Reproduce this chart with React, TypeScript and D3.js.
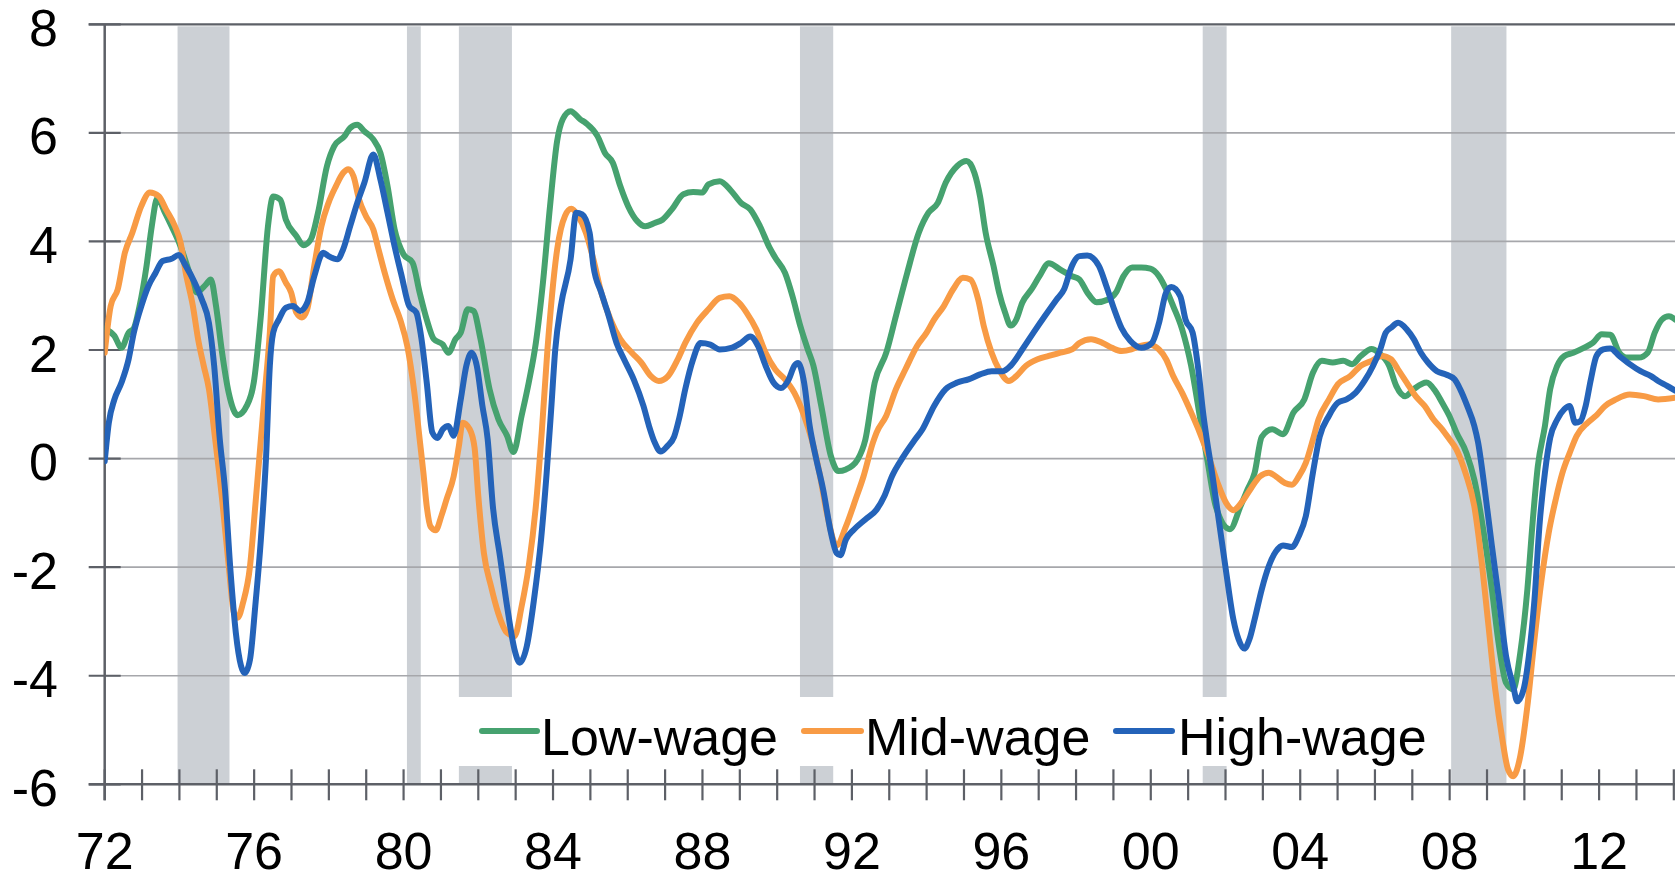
import React from 'react';
import * as d3 from 'd3';

// chart data (year, % change)
const yTicks = [8, 6, 4, 2, 0, -2, -4, -6];
const labelYears = [1972, 1976, 1980, 1984, 1988, 1992, 1996, 2000, 2004, 2008, 2012];
const yearLabels = ['72', '76', '80', '84', '88', '92', '96', '00', '04', '08', '12'];
const recessions: [number, number][] = [
  [1973.95, 1975.34], [1980.09, 1980.46], [1981.48, 1982.9],
  [1990.61, 1991.5], [2001.39, 2002.03], [2008.04, 2009.52],
];
const seriesNames = ['Low-wage', 'Mid-wage', 'High-wage'];
const seriesColors = ['#46a26f', '#f89b45', '#2463b9'];

const lowWage: [number, number][] = [
  [1972.0, 2.4], [1972.26, 2.26], [1972.45, 2.04], [1972.64, 2.32], [1972.78, 2.4], [1972.93, 2.8],
  [1973.12, 3.55], [1973.26, 4.28], [1973.41, 4.8], [1973.6, 4.55], [1973.79, 4.28], [1974.03, 3.91],
  [1974.27, 3.42], [1974.46, 3.06], [1974.7, 3.2], [1974.84, 3.3], [1974.98, 2.81], [1975.13, 2.01],
  [1975.32, 1.21], [1975.56, 0.8], [1975.8, 0.97], [1975.99, 1.4], [1976.18, 2.63], [1976.37, 4.28],
  [1976.51, 4.83], [1976.7, 4.77], [1976.85, 4.4], [1977.13, 4.1], [1977.32, 3.93], [1977.52, 4.04],
  [1977.71, 4.53], [1977.95, 5.39], [1978.14, 5.75], [1978.42, 5.94], [1978.57, 6.09], [1978.76, 6.15],
  [1978.95, 6.03], [1979.19, 5.88], [1979.38, 5.63], [1979.57, 5.02], [1979.76, 4.22], [1980.0, 3.76],
  [1980.24, 3.61], [1980.43, 3.06], [1980.62, 2.56], [1980.81, 2.2], [1981.05, 2.1], [1981.2, 1.95],
  [1981.39, 2.2], [1981.53, 2.32], [1981.72, 2.75], [1981.87, 2.72], [1982.06, 2.2], [1982.3, 1.28],
  [1982.54, 0.72], [1982.77, 0.42], [1982.94, 0.12], [1983.16, 0.79], [1983.35, 1.4], [1983.54, 2.13],
  [1983.73, 3.24], [1983.92, 4.65], [1984.11, 5.85], [1984.26, 6.25], [1984.47, 6.4], [1984.73, 6.25],
  [1984.88, 6.18], [1985.19, 5.94], [1985.39, 5.63], [1985.6, 5.45], [1985.8, 5.02], [1986.01, 4.65],
  [1986.26, 4.37], [1986.47, 4.28], [1986.72, 4.34], [1986.93, 4.4], [1987.18, 4.59], [1987.49, 4.87],
  [1987.75, 4.91], [1988.0, 4.9], [1988.16, 5.05], [1988.46, 5.11], [1988.77, 4.93], [1989.03, 4.71],
  [1989.28, 4.59], [1989.54, 4.28], [1989.8, 3.88], [1989.95, 3.7], [1990.21, 3.42], [1990.41, 2.99],
  [1990.62, 2.44], [1990.82, 2.01], [1990.97, 1.71], [1991.18, 0.97], [1991.44, 0.04], [1991.64, -0.23],
  [1991.84, -0.2], [1992.15, -0.02], [1992.36, 0.35], [1992.61, 1.4], [1992.92, 1.95], [1993.18, 2.63],
  [1993.48, 3.42], [1993.79, 4.16], [1994.05, 4.53], [1994.3, 4.71], [1994.51, 5.08], [1994.82, 5.39],
  [1995.07, 5.48], [1995.28, 5.26], [1995.43, 4.83], [1995.58, 4.16], [1995.79, 3.55], [1995.94, 3.06],
  [1996.1, 2.69], [1996.25, 2.45], [1996.4, 2.56], [1996.56, 2.87], [1996.81, 3.12], [1997.02, 3.36],
  [1997.27, 3.6], [1997.58, 3.48], [1997.89, 3.36], [1998.09, 3.3], [1998.3, 3.06], [1998.55, 2.88],
  [1998.86, 2.93], [1999.07, 3.06], [1999.27, 3.36], [1999.5, 3.52], [1999.75, 3.52], [1999.99, 3.5],
  [2000.22, 3.36], [2000.41, 3.12], [2000.6, 2.81], [2000.84, 2.38], [2001.08, 1.71], [2001.31, 0.79],
  [2001.52, -0.05], [2001.74, -0.88], [2002.12, -1.3], [2002.4, -0.88], [2002.59, -0.57], [2002.78, -0.26],
  [2002.97, 0.4], [2003.25, 0.54], [2003.54, 0.45], [2003.82, 0.85], [2004.11, 1.09], [2004.34, 1.58],
  [2004.58, 1.8], [2004.87, 1.77], [2005.15, 1.8], [2005.39, 1.74], [2005.62, 1.89], [2005.91, 2.02],
  [2006.1, 1.95], [2006.38, 1.71], [2006.57, 1.34], [2006.81, 1.15], [2007.04, 1.28], [2007.38, 1.4],
  [2007.61, 1.25], [2007.8, 1.03], [2007.99, 0.79], [2008.18, 0.48], [2008.45, 0.1], [2008.66, -0.39],
  [2008.94, -1.49], [2009.13, -2.41], [2009.32, -3.45], [2009.51, -4.13], [2009.7, -4.25], [2009.89, -3.58],
  [2010.08, -2.41], [2010.22, -1.18], [2010.36, -0.14], [2010.55, 0.6], [2010.69, 1.28], [2010.88, 1.71],
  [2011.07, 1.89], [2011.31, 1.95], [2011.59, 2.04], [2011.83, 2.13], [2012.07, 2.29], [2012.3, 2.28],
  [2012.54, 1.95], [2012.73, 1.86], [2013.06, 1.86], [2013.3, 1.95], [2013.49, 2.32], [2013.68, 2.56],
  [2013.87, 2.62], [2014.04, 2.56],
];

const midWage: [number, number][] = [
  [1972.0, 1.95], [1972.16, 2.81], [1972.35, 3.12], [1972.54, 3.79], [1972.74, 4.16], [1972.98, 4.65],
  [1973.21, 4.9], [1973.45, 4.83], [1973.64, 4.59], [1973.88, 4.28], [1974.03, 3.98], [1974.17, 3.42],
  [1974.36, 2.81], [1974.5, 2.2], [1974.65, 1.71], [1974.79, 1.28], [1974.95, 0.4], [1975.15, -0.8],
  [1975.32, -1.98], [1975.46, -2.84], [1975.56, -2.93], [1975.7, -2.66], [1975.89, -1.98], [1976.03, -0.88],
  [1976.18, 0.35], [1976.27, 1.09], [1976.42, 2.32], [1976.51, 3.36], [1976.66, 3.45], [1976.85, 3.24],
  [1976.99, 3.06], [1977.13, 2.69], [1977.28, 2.6], [1977.42, 2.75], [1977.61, 3.55], [1977.8, 4.28],
  [1977.99, 4.71], [1978.19, 5.02], [1978.38, 5.26], [1978.52, 5.33], [1978.66, 5.2], [1978.81, 4.77],
  [1978.99, 4.47], [1979.19, 4.22], [1979.33, 3.85], [1979.52, 3.36], [1979.71, 2.93], [1979.91, 2.56],
  [1980.1, 2.07], [1980.29, 1.21], [1980.43, 0.36], [1980.53, -0.26], [1980.62, -0.88], [1980.72, -1.25],
  [1980.86, -1.32], [1981.01, -1.06], [1981.15, -0.75], [1981.34, -0.33], [1981.48, 0.23], [1981.58, 0.66],
  [1981.77, 0.54], [1981.9, 0.2], [1982.0, -0.69], [1982.15, -1.74], [1982.34, -2.35], [1982.53, -2.84],
  [1982.77, -3.21], [1982.97, -3.27], [1983.16, -2.72], [1983.35, -1.98], [1983.54, -0.88], [1983.7, 0.5],
  [1983.85, 2.0], [1984.11, 3.85], [1984.32, 4.47], [1984.49, 4.6], [1984.67, 4.47], [1984.88, 4.16],
  [1985.08, 3.67], [1985.29, 3.06], [1985.54, 2.56], [1985.8, 2.2], [1986.11, 1.95], [1986.36, 1.77],
  [1986.62, 1.52], [1986.83, 1.43], [1987.08, 1.52], [1987.34, 1.83], [1987.54, 2.13], [1987.85, 2.5],
  [1988.16, 2.75], [1988.46, 2.96], [1988.72, 2.99], [1988.98, 2.87], [1989.18, 2.69], [1989.44, 2.38],
  [1989.69, 1.95], [1989.95, 1.64], [1990.21, 1.46], [1990.46, 1.21], [1990.72, 0.79], [1990.92, 0.36],
  [1991.13, -0.26], [1991.33, -1.0], [1991.59, -1.6], [1991.84, -1.25], [1992.1, -0.75], [1992.31, -0.33],
  [1992.56, 0.29], [1992.66, 0.48], [1992.92, 0.79], [1993.18, 1.28], [1993.43, 1.64], [1993.74, 2.07],
  [1994.0, 2.32], [1994.2, 2.56], [1994.46, 2.81], [1994.71, 3.12], [1994.97, 3.33], [1995.17, 3.3],
  [1995.38, 2.93], [1995.53, 2.44], [1995.74, 1.95], [1995.94, 1.64], [1996.2, 1.43], [1996.4, 1.52],
  [1996.66, 1.71], [1996.97, 1.83], [1997.27, 1.89], [1997.58, 1.95], [1997.89, 2.01], [1998.09, 2.13],
  [1998.4, 2.2], [1998.71, 2.13], [1998.96, 2.04], [1999.22, 1.98], [1999.48, 2.01], [1999.7, 2.07],
  [1999.94, 2.1], [2000.22, 2.01], [2000.41, 1.83], [2000.6, 1.52], [2000.84, 1.21], [2001.08, 0.85],
  [2001.31, 0.48], [2001.55, 0.04], [2001.79, -0.45], [2002.02, -0.82], [2002.21, -0.95], [2002.45, -0.79],
  [2002.69, -0.54], [2002.92, -0.33], [2003.16, -0.26], [2003.35, -0.33], [2003.59, -0.45], [2003.78, -0.48],
  [2003.96, -0.33], [2004.15, -0.08], [2004.34, 0.35], [2004.49, 0.72], [2004.77, 1.09], [2005.01, 1.37],
  [2005.34, 1.52], [2005.62, 1.71], [2005.91, 1.8], [2006.19, 1.89], [2006.43, 1.83], [2006.62, 1.64],
  [2006.85, 1.4], [2007.09, 1.15], [2007.33, 0.97], [2007.57, 0.72], [2007.8, 0.54], [2007.99, 0.36],
  [2008.18, 0.17], [2008.42, -0.26], [2008.66, -0.88], [2008.84, -1.8], [2009.03, -3.02], [2009.22, -4.25],
  [2009.41, -5.17], [2009.56, -5.72], [2009.7, -5.85], [2009.89, -5.48], [2010.08, -4.56], [2010.27, -3.33],
  [2010.46, -2.23], [2010.65, -1.37], [2010.84, -0.75], [2011.02, -0.26], [2011.21, 0.1], [2011.4, 0.42],
  [2011.69, 0.66], [2011.92, 0.79], [2012.16, 0.97], [2012.45, 1.09], [2012.82, 1.18], [2013.2, 1.15],
  [2013.58, 1.09], [2014.04, 1.12],
];

const highWage: [number, number][] = [
  [1972.0, -0.05], [1972.11, 0.66], [1972.26, 1.09], [1972.45, 1.4], [1972.64, 1.83], [1972.78, 2.32],
  [1972.98, 2.81], [1973.17, 3.18], [1973.36, 3.42], [1973.55, 3.64], [1973.79, 3.68], [1973.98, 3.75],
  [1974.17, 3.55], [1974.41, 3.24], [1974.6, 2.93], [1974.79, 2.5], [1974.93, 1.71], [1975.08, 0.36],
  [1975.22, -0.57], [1975.37, -2.1], [1975.51, -3.21], [1975.65, -3.82], [1975.75, -3.95], [1975.89, -3.7],
  [1976.03, -2.72], [1976.18, -1.49], [1976.32, 0.04], [1976.42, 1.71], [1976.51, 2.32], [1976.66, 2.56],
  [1976.85, 2.78], [1977.04, 2.81], [1977.23, 2.72], [1977.42, 2.87], [1977.61, 3.36], [1977.85, 3.79],
  [1977.99, 3.73], [1978.23, 3.67], [1978.38, 3.85], [1978.57, 4.28], [1978.76, 4.71], [1978.95, 5.08],
  [1979.19, 5.6], [1979.38, 5.14], [1979.57, 4.53], [1979.76, 3.91], [1979.95, 3.36], [1980.15, 2.81],
  [1980.34, 2.69], [1980.48, 2.2], [1980.62, 1.4], [1980.77, 0.48], [1980.91, 0.38], [1981.05, 0.54],
  [1981.2, 0.6], [1981.34, 0.42], [1981.53, 1.09], [1981.68, 1.71], [1981.82, 1.95], [1981.96, 1.71],
  [1982.11, 0.97], [1982.25, 0.36], [1982.39, -0.88], [1982.58, -1.8], [1982.77, -2.72], [1982.97, -3.52],
  [1983.11, -3.76], [1983.3, -3.45], [1983.49, -2.6], [1983.68, -1.49], [1983.83, -0.26], [1983.95, 0.9],
  [1984.06, 2.01], [1984.21, 2.81], [1984.47, 3.67], [1984.62, 4.53], [1984.78, 4.5], [1984.98, 4.16],
  [1985.08, 3.55], [1985.29, 3.06], [1985.49, 2.63], [1985.7, 2.13], [1985.9, 1.83], [1986.16, 1.46],
  [1986.42, 0.97], [1986.57, 0.6], [1986.72, 0.3], [1986.88, 0.13], [1987.06, 0.23], [1987.24, 0.4],
  [1987.38, 0.75], [1987.54, 1.28], [1987.75, 1.83], [1987.95, 2.13], [1988.21, 2.1], [1988.46, 2.01],
  [1988.77, 2.04], [1989.03, 2.13], [1989.28, 2.25], [1989.49, 2.07], [1989.69, 1.71], [1989.9, 1.4],
  [1990.1, 1.3], [1990.31, 1.46], [1990.46, 1.71], [1990.56, 1.76], [1990.72, 1.4], [1990.87, 0.6],
  [1991.03, 0.04], [1991.23, -0.57], [1991.44, -1.37], [1991.59, -1.74], [1991.69, -1.78], [1991.84, -1.49],
  [1992.05, -1.31], [1992.36, -1.12], [1992.66, -0.94], [1992.87, -0.69], [1993.07, -0.33], [1993.38, 0.04],
  [1993.69, 0.35], [1993.89, 0.54], [1994.2, 0.97], [1994.51, 1.28], [1994.82, 1.4], [1995.12, 1.46],
  [1995.43, 1.55], [1995.74, 1.61], [1996.04, 1.61], [1996.25, 1.71], [1996.56, 2.01], [1996.86, 2.32],
  [1997.17, 2.63], [1997.48, 2.93], [1997.68, 3.12], [1997.89, 3.55], [1998.09, 3.73], [1998.3, 3.74],
  [1998.61, 3.55], [1998.81, 3.18], [1999.02, 2.75], [1999.22, 2.4], [1999.45, 2.17], [1999.75, 2.04],
  [2000.03, 2.13], [2000.22, 2.5], [2000.41, 3.06], [2000.55, 3.16], [2000.79, 2.99], [2000.93, 2.56],
  [2001.12, 2.32], [2001.26, 1.71], [2001.41, 0.79], [2001.5, 0.35], [2001.64, -0.26], [2001.83, -1.18],
  [2002.02, -2.1], [2002.21, -2.96], [2002.35, -3.33], [2002.5, -3.5], [2002.64, -3.33], [2002.78, -2.96],
  [2002.97, -2.41], [2003.16, -1.98], [2003.35, -1.71], [2003.54, -1.6], [2003.78, -1.63], [2003.96, -1.43],
  [2004.15, -1.06], [2004.34, -0.26], [2004.52, 0.4], [2004.77, 0.79], [2005.01, 1.03], [2005.24, 1.09],
  [2005.48, 1.21], [2005.72, 1.43], [2005.95, 1.71], [2006.14, 2.01], [2006.29, 2.32], [2006.43, 2.41],
  [2006.62, 2.5], [2006.85, 2.38], [2007.04, 2.2], [2007.23, 1.95], [2007.42, 1.77], [2007.66, 1.61],
  [2007.9, 1.55], [2008.13, 1.46], [2008.28, 1.28], [2008.47, 0.97], [2008.66, 0.6], [2008.76, 0.3],
  [2008.94, -0.57], [2009.13, -1.61], [2009.32, -2.6], [2009.51, -3.64], [2009.7, -4.19], [2009.81, -4.47],
  [2009.98, -4.25], [2010.12, -3.64], [2010.27, -2.6], [2010.41, -1.18], [2010.55, -0.26], [2010.69, 0.38],
  [2010.88, 0.72], [2011.07, 0.91], [2011.21, 0.97], [2011.36, 0.66], [2011.5, 0.69], [2011.64, 0.97],
  [2011.78, 1.46], [2011.93, 1.89], [2012.11, 2.01], [2012.3, 2.03], [2012.54, 1.89], [2012.82, 1.74],
  [2013.11, 1.61], [2013.39, 1.52], [2013.58, 1.43], [2013.82, 1.34], [2014.04, 1.25],
];

const allSeries = [lowWage, midWage, highWage];

const W = 1675;
const H = 876;
const FONT = '"Liberation Sans", Arial, sans-serif';
const AXIS = '#5d6067';
const GRID = '#a6a7ab';
const SHADE = '#ccd0d5';

export default function App() {
  const left = 104.7;
  const top = 24.3;
  const bottom = 784.3;
  const x = d3.scaleLinear().domain([1972, 2014]).range([left, left + 42 * 37.36]);
  const y = d3.scaleLinear().domain([-6, 8]).range([bottom, top]);
  const line = d3
    .line<[number, number]>()
    .x((d) => x(d[0]))
    .y((d) => y(d[1]))
    .curve(d3.curveMonotoneX);

  const yearTicks = d3.range(1972, 2015);

  // legend layout (box sits over the bottom of the shaded bars)
  const legendY = 731;
  const legendItems = [
    { x0: 482, x1: 537, tx: 541 },
    { x0: 804, x1: 861, tx: 865 },
    { x0: 1116, x1: 1172, tx: 1178 },
  ];

  return (
    <svg
      width={W}
      height={H}
      style={{ position: 'absolute', left: 0, top: 0, background: '#fff' }}
      fontFamily={FONT}
    >
      <defs>
        <clipPath id="plot">
          <rect x={left} y={0} width={W - left} height={H} />
        </clipPath>
      </defs>
      <rect width={W} height={H} fill="#fff" />

      {recessions.map(([a, b], i) => (
        <rect key={'r' + i} x={x(a)} y={y(8) + 2} width={x(b) - x(a)} height={y(-6) - y(8) - 2} fill={SHADE} />
      ))}

      <rect x={445} y={697} width={1000} height={69} fill="#fff" />

      {yTicks.filter((t) => t !== 8 && t !== -6).map((t) => (
        <line key={'g' + t} x1={left} x2={W} y1={y(t)} y2={y(t)} stroke={GRID} strokeWidth={1.7} />
      ))}
      <line x1={left - 16} x2={W} y1={y(8)} y2={y(8)} stroke={AXIS} strokeWidth={2.2} />

      {yTicks.map((t) => (
        <g key={'yt' + t}>
          <line x1={left - 16} x2={left + 16} y1={y(t)} y2={y(t)} stroke={AXIS} strokeWidth={2.2} />
          <text x={58} y={y(t) + 21.5} textAnchor="end" fontSize={52} fill="#000">
            {t}
          </text>
        </g>
      ))}

      <line x1={left} x2={left} y1={y(8)} y2={bottom + 16} stroke={AXIS} strokeWidth={2.5} />
      <line x1={left - 16} x2={W} y1={bottom} y2={bottom} stroke={AXIS} strokeWidth={2.5} />
      {yearTicks.map((yr) => (
        <line key={'xt' + yr} x1={x(yr)} x2={x(yr)} y1={bottom - 15} y2={bottom + 16} stroke={AXIS} strokeWidth={2.2} />
      ))}
      {labelYears.map((yr, i) => (
        <text key={'xl' + yr} x={x(yr)} y={869} textAnchor="middle" fontSize={52} fill="#000">
          {yearLabels[i]}
        </text>
      ))}

      <g clipPath="url(#plot)">
        {allSeries.map((s, i) => (
          <path
            key={'s' + i}
            d={line(s) || ''}
            fill="none"
            stroke={seriesColors[i]}
            strokeWidth={6}
            strokeLinejoin="round"
            strokeLinecap="round"
          />
        ))}
      </g>

      {legendItems.map((it, i) => (
        <g key={'lg' + i}>
          <line x1={it.x0} x2={it.x1} y1={legendY} y2={legendY} stroke={seriesColors[i]} strokeWidth={6} strokeLinecap="round" />
          <text x={it.tx} y={755} fontSize={52} fill="#000">
            {seriesNames[i]}
          </text>
        </g>
      ))}
    </svg>
  );
}
